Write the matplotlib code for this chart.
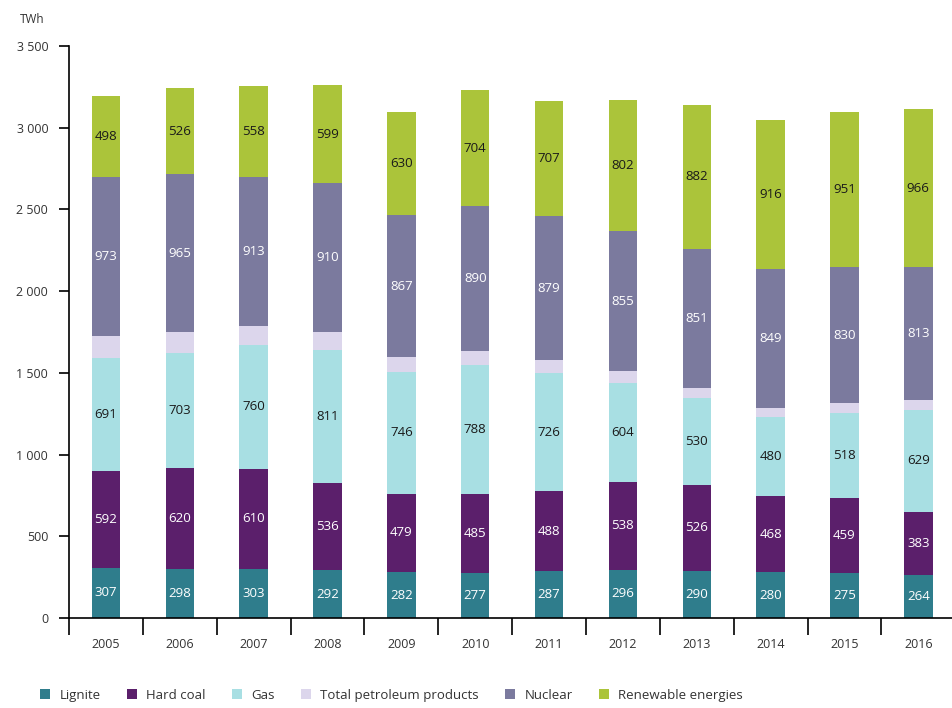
import matplotlib
matplotlib.use("Agg")
import matplotlib.pyplot as plt
import matplotlib.ticker as ticker
import numpy as np

years = [2005, 2006, 2007, 2008, 2009, 2010, 2011, 2012, 2013, 2014, 2015, 2016]
lignite = [307, 298, 303, 292, 282, 277, 287, 296, 290, 280, 275, 264]
hard_coal = [592, 620, 610, 536, 479, 485, 488, 538, 526, 468, 459, 383]
gas = [691, 703, 760, 811, 746, 788, 726, 604, 530, 480, 518, 629]
petroleum = [136, 130, 114, 111, 90, 84, 78, 74, 62, 57, 64, 58]   # not labelled
nuclear = [973, 965, 913, 910, 867, 890, 879, 855, 851, 849, 830, 813]
renewables = [498, 526, 558, 599, 630, 704, 707, 802, 882, 916, 951, 966]

series = [
    ("Lignite", lignite, "#2f7d8c", "white", True),
    ("Hard coal", hard_coal, "#5b1f6b", "white", True),
    ("Gas", gas, "#a8dfe3", "#1a1a1a", True),
    ("Total petroleum products", petroleum, "#dcd6ec", "#1a1a1a", False),
    ("Nuclear", nuclear, "#7b7a9e", "white", True),
    ("Renewable energies", renewables, "#abc43a", "#1a1a1a", True),
]

plt.rcParams['font.family'] = ['Open Sans', 'DejaVu Sans']

fig = plt.figure(figsize=(9.52, 7.08), dpi=100)
ax = fig.add_axes([0.0725, 0.127, 0.927, 0.808])

x = np.arange(len(years))
bottom = np.zeros(len(years))
handles = []
for name, vals, color, tcolor, show in series:
    vals = np.array(vals)
    b = ax.bar(x, vals, 0.385, bottom=bottom, color=color, label=name)
    handles.append(b)
    if show:
        for xi, v, bt in zip(x, vals, bottom):
            ax.text(xi, bt + v / 2, str(v), ha="center", va="center",
                    color=tcolor, fontsize=9.5)
    bottom += vals

ax.set_xlim(-0.5, 11.45)
ax.set_ylim(0, 3500)
ax.set_yticks(range(0, 3501, 500))
ax.yaxis.set_major_formatter(ticker.FuncFormatter(
    lambda v, pos: "{:,}".format(int(v)).replace(",", " ")))

# year labels centred, ticks on the boundaries between bars
ax.set_xticks(np.arange(-0.5, 11.5, 1.0))
ax.set_xticklabels([])
ax.set_xticks(x, minor=True)
ax.set_xticklabels([str(y) for y in years], minor=True)
ax.tick_params(axis="x", which="major", length=12, width=1.2, direction="out")
ax.tick_params(axis="x", which="minor", length=0, pad=14, labelsize=9, labelcolor="#333333")
ax.tick_params(axis="y", length=7, width=1.2, labelsize=9, labelcolor="#333333", pad=8)

for s in ["top", "right"]:
    ax.spines[s].set_visible(False)
for s in ["left", "bottom"]:
    ax.spines[s].set_linewidth(1.2)

fig.text(0.021, 0.973, "TWh", fontsize=8.5, color="#333333", ha="left", va="center")

fig.legend(handles=handles, loc="lower left", bbox_to_anchor=(0.03, -0.008),
           ncol=6, frameon=False, fontsize=9.5, handlelength=0.75, handleheight=0.75,
           handletextpad=0.7, columnspacing=2.0, labelcolor="#333333")

fig.savefig("out.png", dpi=100)
